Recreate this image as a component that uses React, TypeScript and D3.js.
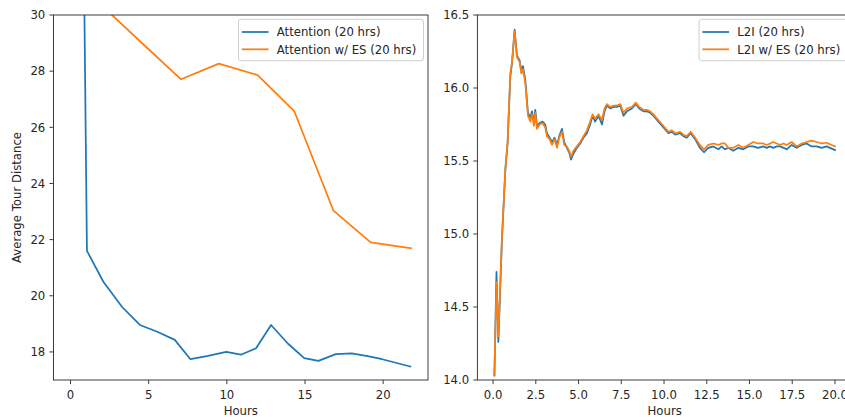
import React from "react";
import * as d3 from "d3";

// ---------- Data ----------
const attnHours = [0, 1.05, 2.1, 3.3, 4.44, 5.55, 6.67, 7.67, 8.8, 9.96, 10.9, 11.87, 12.83, 13.9, 14.95, 15.86, 16.97, 17.99, 19.0, 19.94, 21.74];
const attnValues = [77, 21.6, 20.5, 19.6, 18.96, 18.72, 18.43, 17.74, 17.86, 18.0, 17.9, 18.13, 18.96, 18.3, 17.78, 17.68, 17.92, 17.95, 17.85, 17.74, 17.48];

const attnEsHours = [0, 2.42, 4.84, 7.07, 9.49, 11.97, 14.31, 16.82, 19.2, 21.78];
const attnEsValues = [45, 30.12, 28.86, 27.71, 28.27, 27.86, 26.58, 23.03, 21.9, 21.69];

const l2iHours = [0.08, 0.2, 0.31, 0.52, 0.72, 0.85, 1.01, 1.11, 1.26, 1.4, 1.55, 1.65, 1.75, 1.89, 2.04, 2.18, 2.28, 2.39, 2.47, 2.57, 2.72, 2.9, 3.05, 3.15, 3.31, 3.45, 3.6, 3.74, 3.87, 4.03, 4.16, 4.32, 4.45, 4.56, 4.7, 4.9, 5.1, 5.29, 5.49, 5.68, 5.82, 5.97, 6.17, 6.37, 6.52, 6.66, 6.85, 7.05, 7.24, 7.44, 7.63, 7.83, 8.12, 8.35, 8.55, 8.8, 9.0, 9.19, 9.38, 9.67, 9.97, 10.26, 10.46, 10.65, 10.94, 11.13, 11.33, 11.56, 11.82, 12.1, 12.34, 12.59, 12.88, 13.18, 13.37, 13.57, 13.76, 14.05, 14.35, 14.64, 14.93, 15.22, 15.5, 15.81, 16.0, 16.2, 16.39, 16.6, 16.78, 17.0, 17.17, 17.47, 17.76, 18.05, 18.34, 18.63, 18.93, 19.22, 19.51, 19.7, 20.0];
const l2iValues = [14.03, 14.74, 14.26, 14.96, 15.44, 15.62, 16.08, 16.17, 16.4, 16.22, 16.19, 16.12, 16.15, 16.05, 15.83, 15.8, 15.84, 15.76, 15.85, 15.74, 15.76, 15.77, 15.75, 15.69, 15.66, 15.63, 15.66, 15.61, 15.67, 15.72, 15.63, 15.59, 15.56, 15.51, 15.55, 15.59, 15.62, 15.66, 15.69, 15.75, 15.81, 15.77, 15.81, 15.75, 15.84, 15.88, 15.86, 15.87, 15.87, 15.88, 15.81, 15.84, 15.86, 15.89, 15.86, 15.84, 15.84, 15.83, 15.81, 15.77, 15.73, 15.69, 15.7, 15.68, 15.69, 15.67, 15.66, 15.69, 15.65, 15.59, 15.56, 15.59, 15.6, 15.58, 15.6, 15.58, 15.59, 15.57, 15.59, 15.58, 15.6, 15.6, 15.59, 15.6, 15.59, 15.6, 15.59, 15.6, 15.6, 15.59, 15.58, 15.61, 15.59, 15.61, 15.62, 15.6, 15.6, 15.59, 15.6, 15.59, 15.575];
const l2iEsValues = [14.04, 14.67, 14.3, 14.98, 15.45, 15.63, 16.1, 16.18, 16.39, 16.21, 16.18, 16.1, 16.13, 16.03, 15.81, 15.77, 15.82, 15.74, 15.83, 15.72, 15.75, 15.76, 15.73, 15.67, 15.65, 15.61, 15.65, 15.59, 15.66, 15.7, 15.61, 15.6, 15.57, 15.53, 15.57, 15.6, 15.63, 15.67, 15.71, 15.77, 15.82, 15.79, 15.82, 15.78, 15.86, 15.89, 15.87, 15.88, 15.88, 15.89, 15.83, 15.86, 15.87, 15.9, 15.87, 15.85, 15.85, 15.84, 15.82, 15.78, 15.74, 15.7, 15.71, 15.69, 15.7, 15.68, 15.67, 15.7, 15.66, 15.61, 15.58, 15.61, 15.62, 15.61, 15.62, 15.62, 15.59, 15.59, 15.61, 15.59, 15.61, 15.63, 15.62, 15.62, 15.61, 15.62, 15.63, 15.62, 15.61, 15.62, 15.61, 15.63, 15.6, 15.62, 15.63, 15.64, 15.63, 15.62, 15.625, 15.615, 15.6];

const leftXTicks = [0, 5, 10, 15, 20];
const leftYTicks = [18, 20, 22, 24, 26, 28, 30];
const rightXTicks = [0, 2.5, 5, 7.5, 10, 12.5, 15, 17.5, 20];
const rightYTicks = [14, 14.5, 15, 15.5, 16, 16.5];

const leftLabels = ["Attention (20 hrs)", "Attention w/ ES (20 hrs)"];
const rightLabels = ["L2I (20 hrs)", "L2I w/ ES (20 hrs)"];

const BLUE = "#1f77b4";
const ORANGE = "#ff7f0e";
const FONT = "'DejaVu Sans', sans-serif";
const FS = 11.7;
const TEXT = "#262626";

function textWidth(s: string): number {
  if (typeof document === "undefined") return s.length * 7;
  const c = document.createElement("canvas");
  const ctx = c.getContext("2d");
  if (!ctx) return s.length * 7;
  ctx.font = `${FS}px 'DejaVu Sans'`;
  return ctx.measureText(s).width;
}

type Series = { xs: number[]; ys: number[]; color: string; label: string };

function Panel(props: {
  id: string;
  x0: number; x1: number; y0: number; y1: number;
  xDomain: [number, number]; yDomain: [number, number];
  xTicks: number[]; yTicks: number[];
  xFmt: (v: number) => string; yFmt: (v: number) => string;
  series: Series[];
  ylabel?: string;
}) {
  const { id, x0, x1, y0, y1, series } = props;
  const x = d3.scaleLinear().domain(props.xDomain).range([x0, x1]);
  const y = d3.scaleLinear().domain(props.yDomain).range([y1, y0]);
  const line = d3.line<[number, number]>().x((d) => x(d[0])).y((d) => y(d[1]));
  const tw = Math.max(...series.map((s) => textWidth(s.label)));
  const legW = 38.3 + tw + 7.3;
  const legH = 41.4;
  const legX = x1 - 4.5 - legW;
  const legY = y0 + 4.3;
  return (
    <g>
      <defs>
        <clipPath id={id}>
          <rect x={x0} y={y0} width={x1 - x0} height={y1 - y0} />
        </clipPath>
      </defs>
      <g clipPath={`url(#${id})`}>
        {series.map((s, i) => (
          <path
            key={i}
            d={line(s.xs.map((v, j) => [v, s.ys[j]] as [number, number])) || ""}
            fill="none"
            stroke={s.color}
            strokeWidth={1.75}
            strokeLinejoin="round"
            strokeLinecap="square"
          />
        ))}
      </g>
      <rect x={x0} y={y0} width={x1 - x0} height={y1 - y0} fill="none" stroke="#333" strokeWidth={0.95} />
      {props.xTicks.map((t) => (
        <g key={"x" + t}>
          <line x1={x(t)} x2={x(t)} y1={y1} y2={y1 + 4.1} stroke="#333" strokeWidth={0.95} />
          <text x={x(t)} y={y1 + 19.3} textAnchor="middle" fontSize={FS} fontFamily={FONT} fill={TEXT}>
            {props.xFmt(t)}
          </text>
        </g>
      ))}
      {props.yTicks.map((t) => (
        <g key={"y" + t}>
          <line x1={x0 - 4.1} x2={x0} y1={y(t)} y2={y(t)} stroke="#333" strokeWidth={0.95} />
          <text x={x0 - 8.2} y={y(t) + 4.2} textAnchor="end" fontSize={FS} fontFamily={FONT} fill={TEXT}>
            {props.yFmt(t)}
          </text>
        </g>
      ))}
      <text x={(x0 + x1) / 2} y={y1 + 35.3} textAnchor="middle" fontSize={FS} fontFamily={FONT} fill={TEXT}>
        Hours
      </text>
      {props.ylabel && (
        <text
          transform={`translate(${x0 - 32.5},${(y0 + y1) / 2}) rotate(-90)`}
          textAnchor="middle"
          fontSize={FS}
          fontFamily={FONT}
          fill={TEXT}
        >
          {props.ylabel}
        </text>
      )}
      <g>
        <rect x={legX} y={legY} width={legW} height={legH} rx={2.5} ry={2.5} fill="#fff" fillOpacity={0.8} stroke="#cccccc" strokeWidth={0.95} />
        {series.map((s, i) => {
          const cy = legY + 12.7 + i * 17.3;
          return (
            <g key={"l" + i}>
              <line x1={legX + 3.3} x2={legX + 30} y1={cy} y2={cy} stroke={s.color} strokeWidth={1.75} />
              <text x={legX + 38.3} y={cy + 4.2} fontSize={FS} fontFamily={FONT} fill={TEXT}>
                {s.label}
              </text>
            </g>
          );
        })}
      </g>
    </g>
  );
}

export default function App() {
  const lMax = 21.78;
  const rMin = 0.08;
  const rMax = 20.0;
  const rSpan = rMax - rMin;
  return (
    <svg
      width={845}
      height={417}
      style={{ position: "absolute", left: 0, top: 0, background: "#fff" }}
    >
      <rect x={0} y={0} width={845} height={417} fill="#fff" />
      <Panel
        id="clipL"
        x0={53.5}
        x1={428}
        y0={15}
        y1={380}
        xDomain={[-0.05 * lMax, 1.05 * lMax]}
        yDomain={[17.0, 30]}
        xTicks={leftXTicks}
        yTicks={leftYTicks}
        xFmt={(v) => String(v)}
        yFmt={(v) => String(v)}
        ylabel="Average Tour Distance"
        series={[
          { xs: attnHours, ys: attnValues, color: BLUE, label: leftLabels[0] },
          { xs: attnEsHours, ys: attnEsValues, color: ORANGE, label: leftLabels[1] },
        ]}
      />
      <Panel
        id="clipR"
        x0={477.4}
        x1={852}
        y0={15}
        y1={380}
        xDomain={[rMin - 0.05 * rSpan, rMax + 0.05 * rSpan]}
        yDomain={[14, 16.5]}
        xTicks={rightXTicks}
        yTicks={rightYTicks}
        xFmt={(v) => v.toFixed(1)}
        yFmt={(v) => v.toFixed(1)}
        series={[
          { xs: l2iHours, ys: l2iValues, color: BLUE, label: rightLabels[0] },
          { xs: l2iHours, ys: l2iEsValues, color: ORANGE, label: rightLabels[1] },
        ]}
      />
    </svg>
  );
}
